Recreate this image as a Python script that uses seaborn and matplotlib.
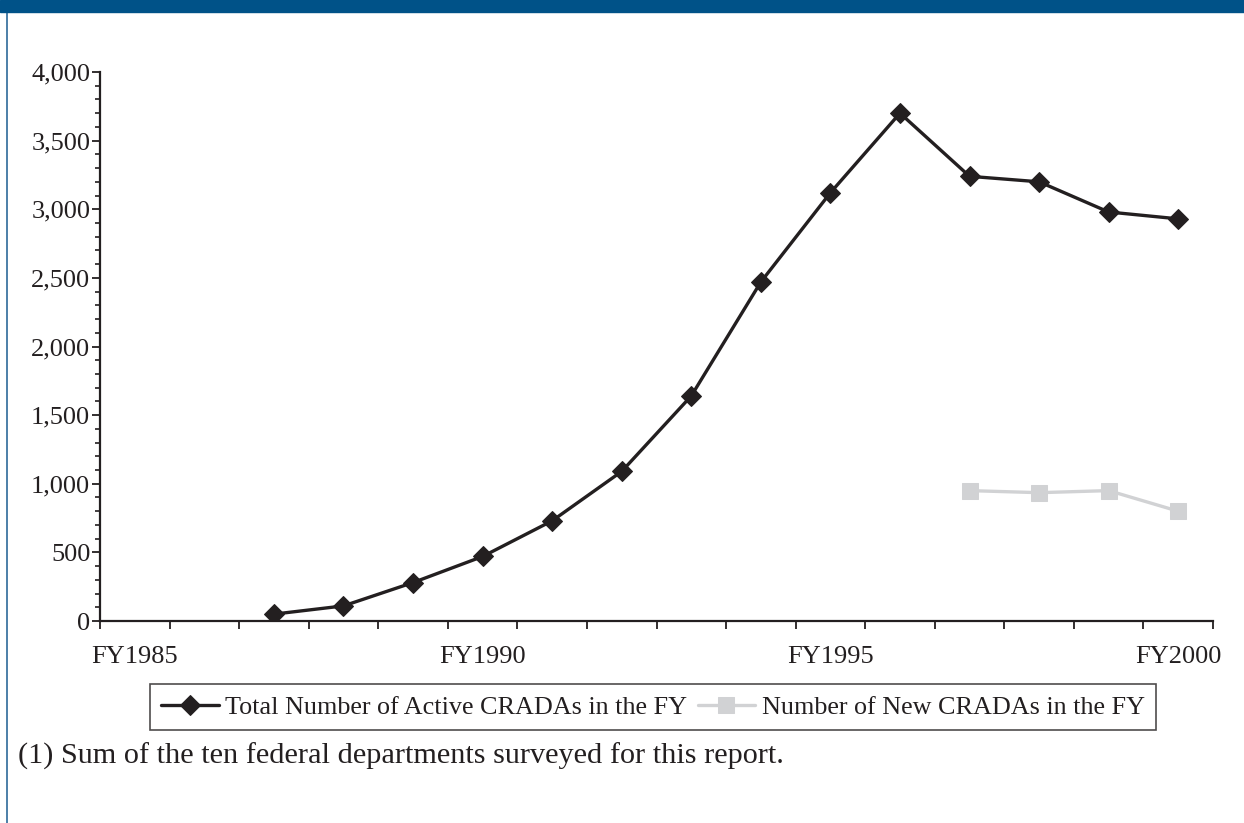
import numpy as np
import pandas as pd
import seaborn as sns
import matplotlib.pyplot as plt
from matplotlib.ticker import FuncFormatter, MultipleLocator, FixedLocator
from matplotlib.patches import Rectangle
from matplotlib.lines import Line2D

# data
years_active = [1987, 1988, 1989, 1990, 1991, 1992, 1993, 1994, 1995, 1996, 1997, 1998, 1999, 2000]
total_active = [50, 110, 280, 470, 730, 1090, 1640, 2470, 3120, 3700, 3240, 3200, 2980, 2930]
years_new = [1997, 1998, 1999, 2000]
new_cradas = [950, 935, 950, 800]
tick_labels = ['FY1985', 'FY1990', 'FY1995', 'FY2000']

sns.set_style('white')
plt.rcParams['font.family'] = ['Liberation Serif', 'DejaVu Serif']

fig = plt.figure(figsize=(12.44, 8.23), dpi=100)
ax = fig.add_axes([100 / 1244, 1 - 621 / 823, 1113 / 1244, 549 / 823])

dark = '#231f20'
grey = '#d1d2d4'

sns.lineplot(x=years_active, y=total_active, ax=ax, color=dark, lw=2.4,
             marker='D', markersize=10, markeredgecolor=dark,
             label='Total Number of Active CRADAs in the FY')
sns.lineplot(x=years_new, y=new_cradas, ax=ax, color=grey, lw=2.4,
             marker='s', markersize=11, markeredgecolor=grey,
             label='Number of New CRADAs in the FY')

ax.set_xlim(1984.5, 2000.5)
ax.set_ylim(0, 4000)
for s in ['top', 'right']:
    ax.spines[s].set_visible(False)
for s in ['left', 'bottom']:
    ax.spines[s].set_color(dark)
    ax.spines[s].set_linewidth(1.6)

# x: tick marks at category boundaries, labels at category centres
ax.xaxis.set_major_locator(FixedLocator(np.arange(1984.5, 2001, 1)))
ax.xaxis.set_major_formatter(FuncFormatter(lambda v, p: ''))
ax.xaxis.set_minor_locator(FixedLocator([1985, 1990, 1995, 2000]))
ax.set_xticklabels(tick_labels, minor=True)
ax.tick_params(axis='x', which='major', direction='out', length=6, width=1.3,
               color=dark, bottom=True)
ax.tick_params(axis='x', which='minor', length=0, pad=18, labelsize=19,
               labelcolor=dark, bottom=True)

ax.yaxis.set_major_locator(MultipleLocator(500))
ax.yaxis.set_minor_locator(MultipleLocator(100))
ax.yaxis.set_major_formatter(FuncFormatter(lambda v, p: f'{int(v):,}'))
ax.tick_params(axis='y', which='major', direction='out', length=5.5, width=1.3,
               color=dark, left=True, labelsize=19, labelcolor=dark, pad=1.5)
ax.tick_params(axis='y', which='minor', direction='out', length=3.5, width=1.2,
               color=dark, left=True)
ax.set_xlabel('')
ax.set_ylabel('')

leg = ax.legend(loc='center', bbox_to_anchor=(653 / 1244, 1 - 707 / 823),
                bbox_transform=fig.transFigure, ncol=2, frameon=True,
                fancybox=False, fontsize=18.8, handlelength=2.2,
                handletextpad=0.25, columnspacing=0.4, borderpad=0.42,
                borderaxespad=0)
leg.get_frame().set_edgecolor(dark)
leg.get_frame().set_linewidth(1.2)
for t in leg.get_texts():
    t.set_color(dark)

fig.text(18 / 1244, 1 - 756 / 823, '(1) Sum of the ten federal departments surveyed for this report.',
         fontsize=21.8, color=dark, va='center', ha='left')

# page decoration: top band and left rule
fig.patches.append(Rectangle((0, 1 - 12 / 823), 1, 12 / 823, transform=fig.transFigure,
                             color='#005288', zorder=5))
fig.lines.append(Line2D([7 / 1244, 7 / 1244], [0, 1], transform=fig.transFigure,
                        color='#2e6a9a', lw=1.2))

fig.savefig('out.png', dpi=100)
